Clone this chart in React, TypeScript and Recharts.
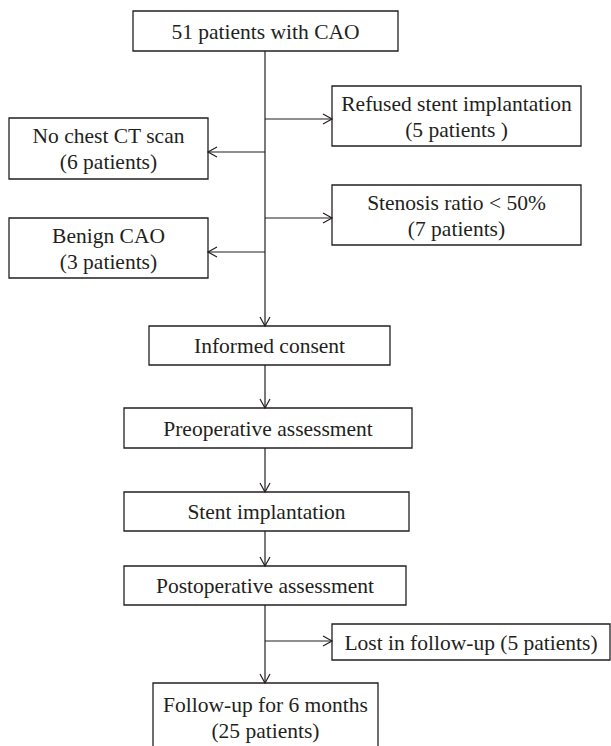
import { ComposedChart, XAxis, YAxis, Scatter, ReferenceArea, ReferenceLine } from 'recharts'

const INK = '#231f20'
const FONT = '"Liberation Serif", "DejaVu Serif", serif'

// page coordinates: x 0..611, y 0..746 (y grows downward)
const boxes = [
  { lines: ['51 patients with CAO'], x1: 133, x2: 398, y1: 11, y2: 51 },
  { lines: ['Refused stent implantation', '(5 patients )'], x1: 332, x2: 581, y1: 86, y2: 146 },
  { lines: ['No chest CT scan', '(6 patients)'], x1: 9, x2: 208, y1: 118, y2: 179 },
  { lines: ['Stenosis ratio < 50%', '(7 patients)'], x1: 332, x2: 581, y1: 185, y2: 245 },
  { lines: ['Benign CAO', '(3 patients)'], x1: 9, x2: 208, y1: 218, y2: 278 },
  { lines: ['Informed consent'], x1: 149, x2: 390, y1: 326, y2: 365 },
  { lines: ['Preoperative assessment'], x1: 124, x2: 412, y1: 408, y2: 448 },
  { lines: ['Stent implantation'], x1: 124, x2: 409, y1: 492, y2: 531 },
  { lines: ['Postoperative assessment'], x1: 124, x2: 406, y1: 566, y2: 605 },
  { lines: ['Lost in follow-up (5 patients)'], x1: 332, x2: 610, y1: 624, y2: 660 },
  { lines: ['Follow-up for 6 months', '(25 patients)'], x1: 153, x2: 378, y1: 683, y2: 752 },
]

const segments = [
  [265, 51, 265, 326],
  [265, 119, 332, 119],
  [265, 152, 208, 152],
  [265, 218, 332, 218],
  [265, 252, 208, 252],
  [265, 365, 265, 408],
  [265, 448, 265, 492],
  [265, 531, 265, 566],
  [265, 605, 265, 683],
  [265, 641, 332, 641],
]

const arrowHeads = [
  { x: 332, y: 119, dir: 'right' },
  { x: 208, y: 152, dir: 'left' },
  { x: 332, y: 218, dir: 'right' },
  { x: 208, y: 252, dir: 'left' },
  { x: 265, y: 326, dir: 'down' },
  { x: 265, y: 408, dir: 'down' },
  { x: 265, y: 492, dir: 'down' },
  { x: 265, y: 566, dir: 'down' },
  { x: 332, y: 641, dir: 'right' },
  { x: 265, y: 683, dir: 'down' },
]

function Chevron(props: any) {
  const { cx, cy, payload } = props
  const L = 9
  const W = 5
  let pts = ''
  if (payload.dir === 'right') pts = `${cx - L},${cy - W} ${cx},${cy} ${cx - L},${cy + W}`
  if (payload.dir === 'left') pts = `${cx + L},${cy - W} ${cx},${cy} ${cx + L},${cy + W}`
  if (payload.dir === 'down') pts = `${cx - W},${cy - L} ${cx},${cy} ${cx + W},${cy - L}`
  return <polyline points={pts} fill='none' stroke={INK} strokeWidth={1.2} />
}

function boxLabel(lines: string[]) {
  return (props: any) => {
    const { x, y, width, height } = props.viewBox
    const mid = y + height / 2
    const lh = 26
    return (
      <text textAnchor='middle' fontFamily={FONT} fontSize={21.5} fill={INK}>
        {lines.map((l, i) => (
          <tspan key={i} x={x + width / 2} y={mid + (i - (lines.length - 1) / 2) * lh} dy='0.35em'>
            {l}
          </tspan>
        ))}
      </text>
    )
  }
}

export default function App() {
  return (
    <div style={{ position: 'absolute', left: 0, top: 0, background: '#fff' }}>
      <ComposedChart width={611} height={746} margin={{ top: 0, right: 0, bottom: 0, left: 0 }}>
        <XAxis type='number' dataKey='x' domain={[0, 611]} hide allowDataOverflow />
        <YAxis type='number' dataKey='y' domain={[0, 746]} reversed hide allowDataOverflow />
        {segments.map((s, i) => (
          <ReferenceLine
            key={'s' + i}
            segment={[{ x: s[0], y: s[1] }, { x: s[2], y: s[3] }]}
            stroke={INK}
            strokeWidth={1.2}
            ifOverflow='visible'
          />
        ))}
        {boxes.map((b, i) => (
          <ReferenceArea
            key={'b' + i}
            x1={b.x1}
            x2={b.x2}
            y1={b.y1}
            y2={b.y2}
            fill='#fff'
            fillOpacity={1}
            stroke={INK}
            strokeWidth={1.3}
            ifOverflow='visible'
            label={boxLabel(b.lines)}
          />
        ))}
        <Scatter data={arrowHeads} shape={<Chevron />} isAnimationActive={false} />
      </ComposedChart>
    </div>
  )
}
